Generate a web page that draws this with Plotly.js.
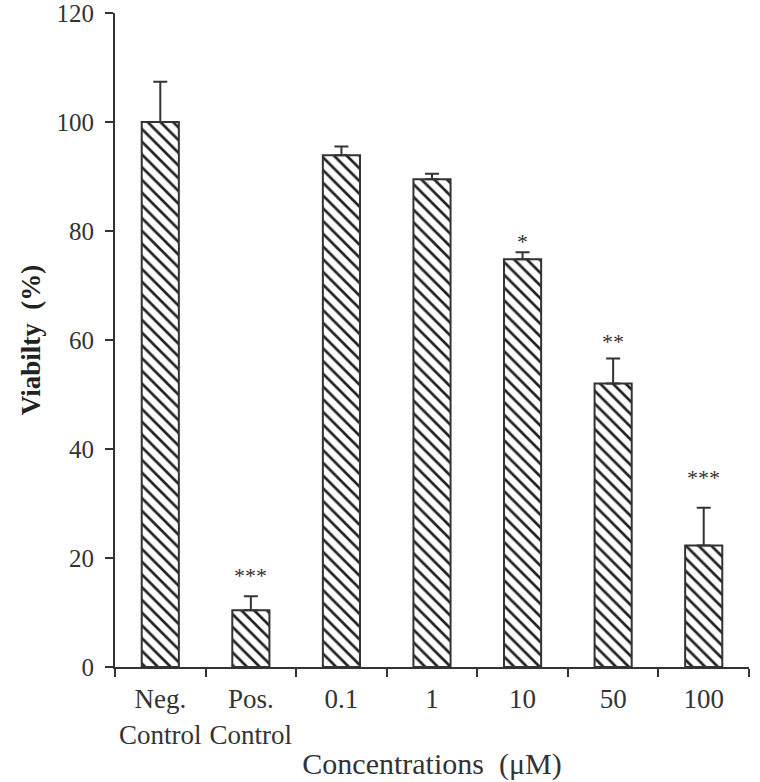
<!DOCTYPE html>
<html>
<head>
<meta charset="utf-8">
<script src="https://cdn.plot.ly/plotly-3.0.1.min.js"></script>
<style>html,body{margin:0;padding:0;background:#fff;}#chart{width:760px;height:782px;}</style>
</head>
<body>
<div id="chart"></div>
<script>
const categories = ['Neg.<br>Control', 'Pos.<br>Control', '0.1', '1', '10', '50', '100'];
const viability = [100.0, 10.4, 93.9, 89.5, 74.8, 52.0, 22.3];
const errorUp = [7.4, 2.6, 1.6, 1.0, 1.3, 4.6, 6.9];
const significance = ['', '***', '', '', '*', '**', '***'];
const yTicks = [0, 20, 40, 60, 80, 100, 120];

// label placement (style only): vertical pixel shift of each significance mark
const starShift = [0, 6, 0, 0, -4, 3, 16];

const serif = 'Liberation Serif, Times New Roman, serif';
const ink = '#333333';

const trace = {
  type: 'bar',
  x: categories,
  y: viability,
  width: 0.41,
  marker: {
    color: '#ffffff',
    line: {color: ink, width: 2},
    pattern: {shape: '\\', fgcolor: '#222222', bgcolor: '#ffffff', size: 9, solidity: 0.3}
  },
  error_y: {
    type: 'data', symmetric: false,
    array: errorUp,
    arrayminus: errorUp.map(() => 0),
    color: ink, thickness: 2, width: 7
  },
  hoverinfo: 'skip'
};

const annotations = [];
significance.forEach((s, i) => {
  if (!s) return;
  annotations.push({
    x: i, y: viability[i] + errorUp[i],
    xref: 'x', yref: 'y',
    text: s,
    showarrow: false,
    yanchor: 'bottom',
    yshift: starShift[i],
    font: {family: serif, size: 22, color: ink}
  });
});

const layout = {
  width: 760, height: 782,
  margin: {l: 115, r: 11, t: 13, b: 115},
  paper_bgcolor: '#ffffff', plot_bgcolor: '#ffffff',
  showlegend: false,
  font: {family: serif, size: 22, color: ink},
  xaxis: {
    type: 'category',
    range: [-0.5, 6.5],
    showline: true, linecolor: ink, linewidth: 2,
    ticks: 'outside', tickson: 'boundaries', ticklen: 8, tickwidth: 2, tickcolor: ink,
    showgrid: false, zeroline: false,
    tickangle: 0,
    ticklabelstandoff: 7,
    tickfont: {family: serif, size: 27, color: ink},
    title: {text: 'Concentrations  (μM)', font: {family: serif, size: 30, color: ink}, standoff: 4}
  },
  yaxis: {
    range: [0, 120],
    tickvals: yTicks,
    showline: true, linecolor: ink, linewidth: 2,
    ticks: 'outside', ticklen: 8, tickwidth: 2, tickcolor: ink,
    showgrid: false, zeroline: false,
    ticklabelstandoff: 6,
    ticklabeloverflow: 'allow',
    tickfont: {family: serif, size: 25, color: ink},
    title: {text: 'Viabilty  (%)', font: {family: serif, size: 27, color: '#222222', weight: 'bold'}, standoff: 8}
  },
  annotations: annotations
};

Plotly.newPlot('chart', [trace], layout, {staticPlot: true, displayModeBar: false});
</script>
</body>
</html>
